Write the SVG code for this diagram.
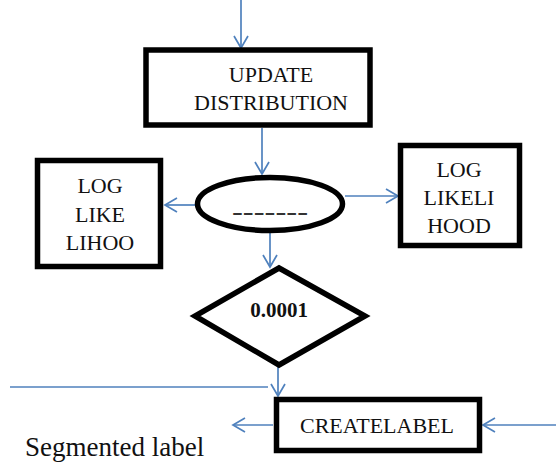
<svg xmlns="http://www.w3.org/2000/svg" width="556" height="463" viewBox="0 0 556 463">
<defs>
<marker id="ah" markerWidth="16" markerHeight="16" refX="13" refY="8" orient="auto" markerUnits="userSpaceOnUse">
<path d="M1,1 L13,8 L1,15" fill="none" stroke="#4f81bd" stroke-width="1.7"/>
</marker>
<style>
.box{fill:#fff;stroke:#000;stroke-width:5.5}
.t{font-family:'Liberation Serif','Times New Roman','DejaVu Serif',serif;font-size:22px;fill:#111;text-anchor:middle}
.c{fill:none;stroke:#4f81bd;stroke-width:1.7}
</style>
</defs>
<rect width="556" height="463" fill="#fff"/>
<g id="connectors">
<line class="c" x1="241" y1="0" x2="241" y2="48" marker-end="url(#ah)"/>
<line class="c" x1="262" y1="128" x2="262" y2="174" marker-end="url(#ah)"/>
<line class="c" x1="195" y1="205" x2="165" y2="205" marker-end="url(#ah)"/>
<line class="c" x1="345" y1="196" x2="398" y2="196" marker-end="url(#ah)"/>
<line class="c" x1="270" y1="233" x2="270" y2="267" marker-end="url(#ah)"/>
<line class="c" x1="278" y1="365" x2="278" y2="396" marker-end="url(#ah)"/>
<line class="c" x1="10" y1="387" x2="268" y2="387"/>
<line class="c" x1="273" y1="425" x2="233" y2="425" marker-end="url(#ah)"/>
<line class="c" x1="556" y1="425" x2="483" y2="425" marker-end="url(#ah)"/>
</g>
<g id="update">
<rect class="box" x="146" y="50" width="224" height="75"/>
<text class="t" x="271" y="82">UPDATE</text>
<text class="t" x="271" y="110">DISTRIBUTION</text>
</g>
<g id="ellipse">
<ellipse cx="270" cy="204" rx="72.5" ry="26.5" fill="#fff" stroke="#000" stroke-width="5.5"/>
<text class="t" x="232" y="220" style="text-anchor:start;font-size:26px;fill:#333" textLength="76" lengthAdjust="spacingAndGlyphs">-------</text>
</g>
<g id="loglike">
<rect class="box" x="37.5" y="160.5" width="123" height="106"/>
<text class="t" x="100" y="193">LOG</text>
<text class="t" x="100" y="222">LIKE</text>
<text class="t" x="100" y="250">LIHOO</text>
</g>
<g id="loglikelihood">
<rect class="box" x="400.5" y="145.5" width="119" height="100"/>
<text class="t" x="459" y="177">LOG</text>
<text class="t" x="459" y="205">LIKELI</text>
<text class="t" x="459" y="233">HOOD</text>
</g>
<g id="diamond">
<polygon points="279,268 365,316 279,365 195,316" fill="#fff" stroke="#000" stroke-width="5.5" stroke-linejoin="miter"/>
<text class="t" x="279" y="317" font-weight="bold" style="font-size:21px">0.0001</text>
</g>
<g id="createlabel">
<rect class="box" x="276.5" y="399.5" width="203" height="51"/>
<text class="t" x="377" y="433">CREATELABEL</text>
</g>
<g id="segmented">
<text x="25" y="456" style="font-family:'Liberation Serif','Times New Roman','DejaVu Serif',serif;font-size:27px;fill:#111">Segmented label</text>
</g>
</svg>
